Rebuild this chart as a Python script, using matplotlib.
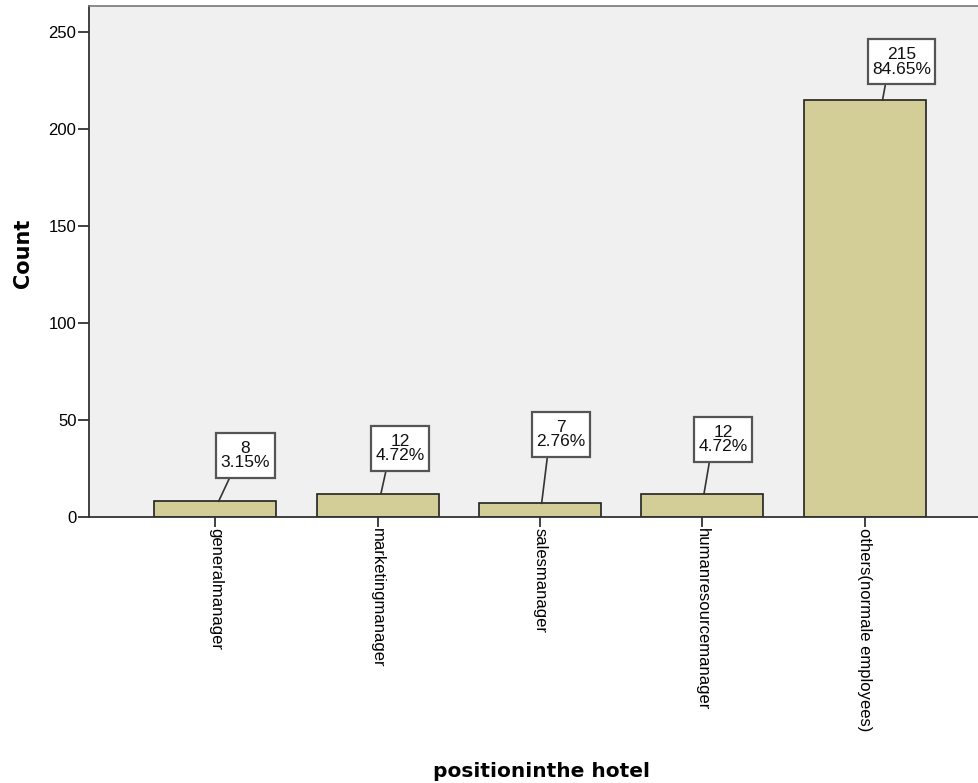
import matplotlib.pyplot as plt
import numpy as np
from matplotlib.path import Path

positions = [
    "generalmanager",
    "marketingmanager",
    "salesmanager",
    "humanresourcemanager",
    "others(normale employees)",
]
counts = [8, 12, 7, 12, 215]
percents = [3.15, 4.72, 2.76, 4.72, 84.65]

# callout placement for each bar label (line foot shift in category units,
# box centre offset from the foot in pixels)
foot_dx = [0.02, 0.02, 0.01, 0.01, 0.11]
box_dx = [27, 19, 19, 19, 19]
box_dy = [46, 45, 69, 54, 38]

BAR_FILL = "#d3ce97"
PLOT_BG = "#f0f0f0"

plt.rcParams["font.family"] = ["Liberation Sans", "DejaVu Sans"]


def callout_box(x0, y0, width, height, mutation_size):
    # plain rectangle, a little more padding top/bottom than left/right
    padx = 0.25 * mutation_size
    pady = 0.45 * mutation_size
    x0, y0 = x0 - padx, y0 - pady
    x1, y1 = x0 + width + 2 * padx, y0 + height + 2 * pady
    return Path([(x0, y0), (x1, y0), (x1, y1), (x0, y1), (x0, y0)], closed=True)


fig = plt.figure(figsize=(9.79, 7.83), dpi=100)
ax = fig.add_axes([89 / 979, 1 - 517 / 783, 1 - 89 / 979 + 0.002, 511 / 783])
ax.set_facecolor(PLOT_BG)

x = np.arange(len(positions))
ax.bar(x, counts, width=0.75, color=BAR_FILL, edgecolor="#222222", linewidth=1.2, zorder=2)

ax.set_xlim(-0.778, 4.716)
ax.set_ylim(0, 263.4)
ax.set_yticks([0, 50, 100, 150, 200, 250])
ax.set_xticks(x)
ax.set_xticklabels(positions, rotation=270, fontsize=12, va="top", ha="center")
ax.tick_params(axis="y", direction="out", length=8, width=1.3, color="#333333", labelsize=12, pad=1)
ax.tick_params(axis="x", direction="out", length=7, width=1.3, color="#333333", pad=1)

for side in ("left", "bottom"):
    ax.spines[side].set_color("#333333")
    ax.spines[side].set_linewidth(1.3)
ax.spines["top"].set_color("#777777")
ax.spines["top"].set_linewidth(1.2)
ax.spines["right"].set_visible(False)

for i, (n, pct) in enumerate(zip(counts, percents)):
    ax.annotate(
        f"{n}\n{pct:.2f}%",
        xy=(i + foot_dx[i], n),
        xytext=(box_dx[i], box_dy[i]),
        textcoords="offset pixels",
        ha="center",
        va="center",
        fontsize=12.5,
        linespacing=0.95,
        color="#111111",
        bbox=dict(boxstyle=callout_box, fc="white", ec="#555555", lw=1.6),
        arrowprops=dict(arrowstyle="-", color="#333333", lw=1.2, relpos=(0.25, 0.0),
                        shrinkA=0, shrinkB=0),
        zorder=3,
    )

ax.set_ylabel("Count", family="DejaVu Sans", fontweight="bold", fontsize=15)
ax.yaxis.set_label_coords(-0.063, 0.517)
ax.set_xlabel("positioninthe hotel", family="DejaVu Sans", fontweight="bold", fontsize=14.5)
ax.xaxis.set_label_coords(0.507, -0.479)

fig.savefig("out.png", dpi=100)
